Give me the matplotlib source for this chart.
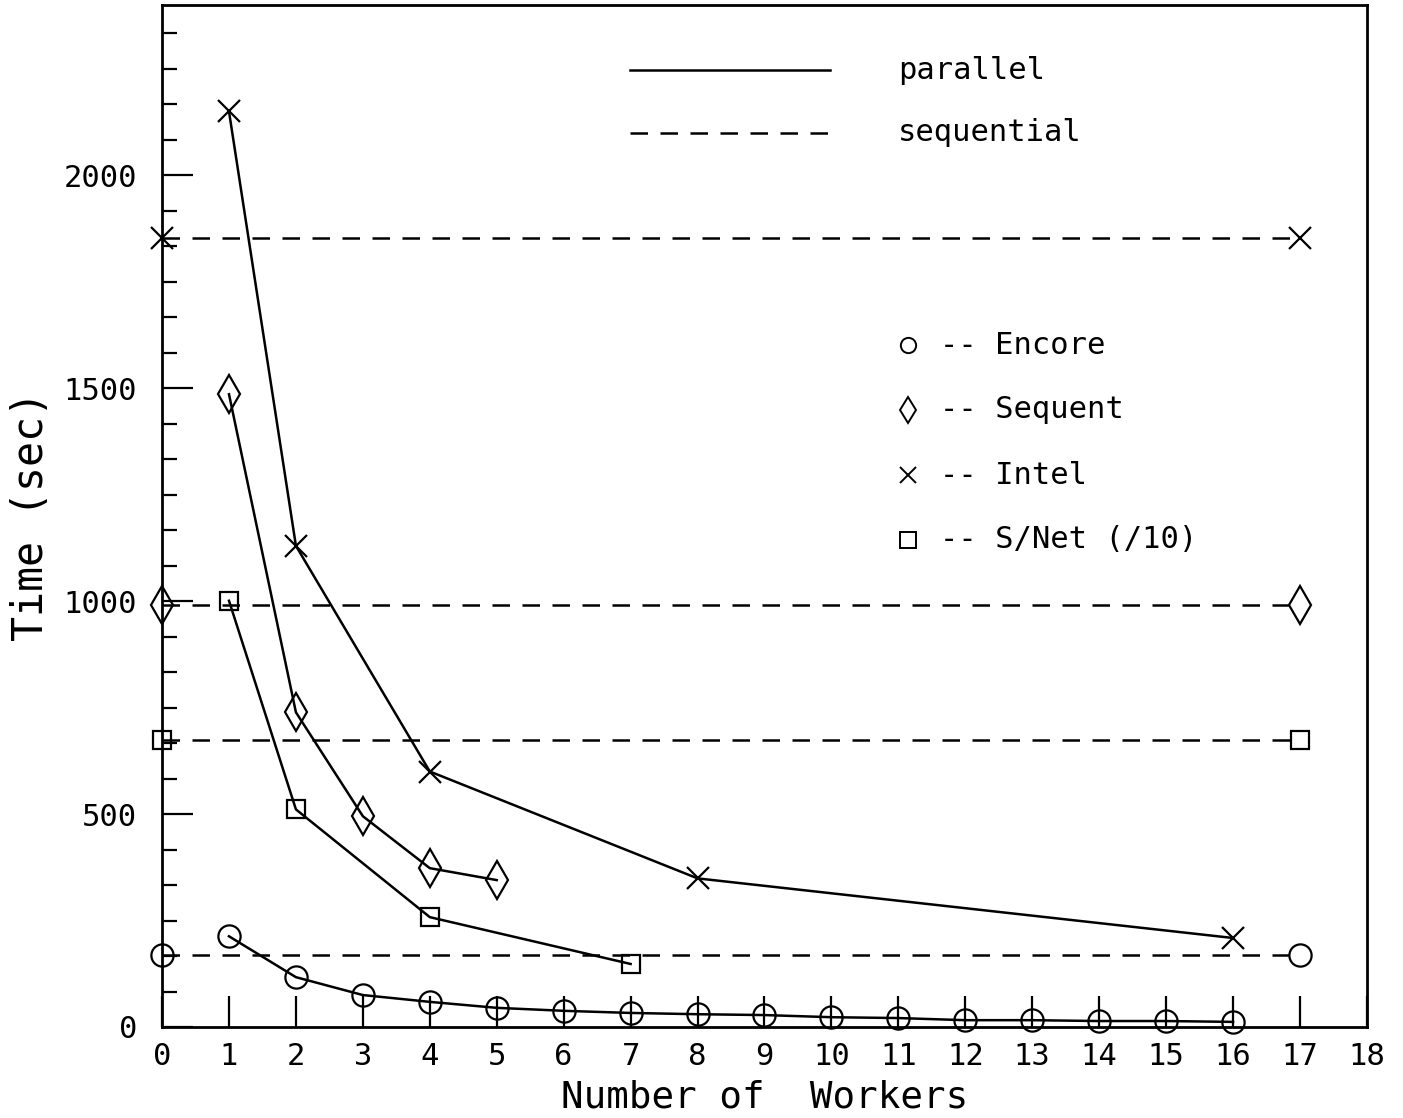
import matplotlib
matplotlib.use("Agg")
import matplotlib.pyplot as plt
from matplotlib.ticker import MultipleLocator, AutoMinorLocator

plt.rcParams['font.family'] = ['DejaVu Sans Mono']

# parallel runs: workers vs time (sec)
encore_workers = [1, 2, 3, 4, 5, 6, 7, 8, 9, 10, 11, 12, 13, 14, 15, 16]
encore_time = [213, 117, 75, 59, 45, 38, 33, 30, 28, 23, 21, 16, 16, 14, 14, 12]
sequent_workers = [1, 2, 3, 4, 5]
sequent_time = [1486, 739, 495, 373, 345]
intel_workers = [1, 2, 4, 8, 16]
intel_time = [2150, 1130, 600, 349, 209]
snet_workers = [1, 2, 4, 7]
snet_time = [1001, 511, 258, 148]

# sequential times (drawn as dashed lines from 0 to 17)
seq_x = [0, 17]
encore_seq = 170
sequent_seq = 990
intel_seq = 1852
snet_seq = 673

machines = ['Encore', 'Sequent', 'Intel', 'S/Net (/10)']
markers = ['o', 'D', 'x', 's']

fig = plt.figure(figsize=(14.03, 11.18), dpi=100)
ax = fig.add_axes([0.1155, 0.0814, 0.8588, 0.9141])

lw = 1.8
mew = 1.6
msize = {'o': 16, 'D': 13, 'x': 16, 's': 13}
dash = (0, (7, 5))

series = [
    (encore_workers, encore_time, encore_seq, 'o'),
    (sequent_workers, sequent_time, sequent_seq, 'D'),
    (intel_workers, intel_time, intel_seq, 'x'),
    (snet_workers, snet_time, snet_seq, 's'),
]

for wk, tm, sq, m in series:
    kw = dict(marker=m, ms=msize[m], mew=mew, mfc='none', mec='black',
              color='black', clip_on=False)
    if m == 'D':
        # tall narrow diamond like the original
        kw['marker'] = 'd'
        kw['ms'] = 19
    ax.plot(wk, tm, lw=lw, ls='-', **kw)
    ax.plot(seq_x, [sq, sq], lw=lw, ls=dash, **kw)

ax.set_xlim(0, 18)
ax.set_ylim(0, 2400)
ax.xaxis.set_major_locator(MultipleLocator(1))
ax.yaxis.set_major_locator(MultipleLocator(500))
ax.yaxis.set_minor_locator(AutoMinorLocator(6))

ax.tick_params(axis='both', which='both', direction='in', width=1.6,
               top=False, right=False, labelsize=22)
ax.tick_params(axis='x', which='major', length=22, pad=11)
ax.tick_params(axis='y', which='major', length=22, pad=18)
ax.tick_params(axis='y', which='minor', length=11)
for sp in ax.spines.values():
    sp.set_linewidth(2)

ax.set_xlabel('Number of  Workers', fontsize=27, labelpad=6)
ax.set_ylabel('Time (sec)', fontsize=30, labelpad=8)

# line-style key
tr = ax.transAxes
ax.plot([0.388, 0.554], [0.936, 0.936], transform=tr, color='black', lw=lw)
ax.plot([0.388, 0.554], [0.875, 0.875], transform=tr, color='black', lw=lw, ls=dash)
ax.text(0.611, 0.936, 'parallel', transform=tr, fontsize=22, va='center')
ax.text(0.611, 0.875, 'sequential', transform=tr, fontsize=22, va='center')

# machine key
key_y = [0.667, 0.604, 0.540, 0.477]
for name, m, yy in zip(machines, markers, key_y):
    mk = 'd' if m == 'D' else m
    ax.plot([0.619], [yy], transform=tr, marker=mk, ms=11 if mk != 'd' else 13,
            mfc='none', mec='black', mew=1.4, ls='none')
    ax.text(0.646, yy, '-- ' + name, transform=tr, fontsize=22, va='center')

fig.savefig('out.png', dpi=100)
